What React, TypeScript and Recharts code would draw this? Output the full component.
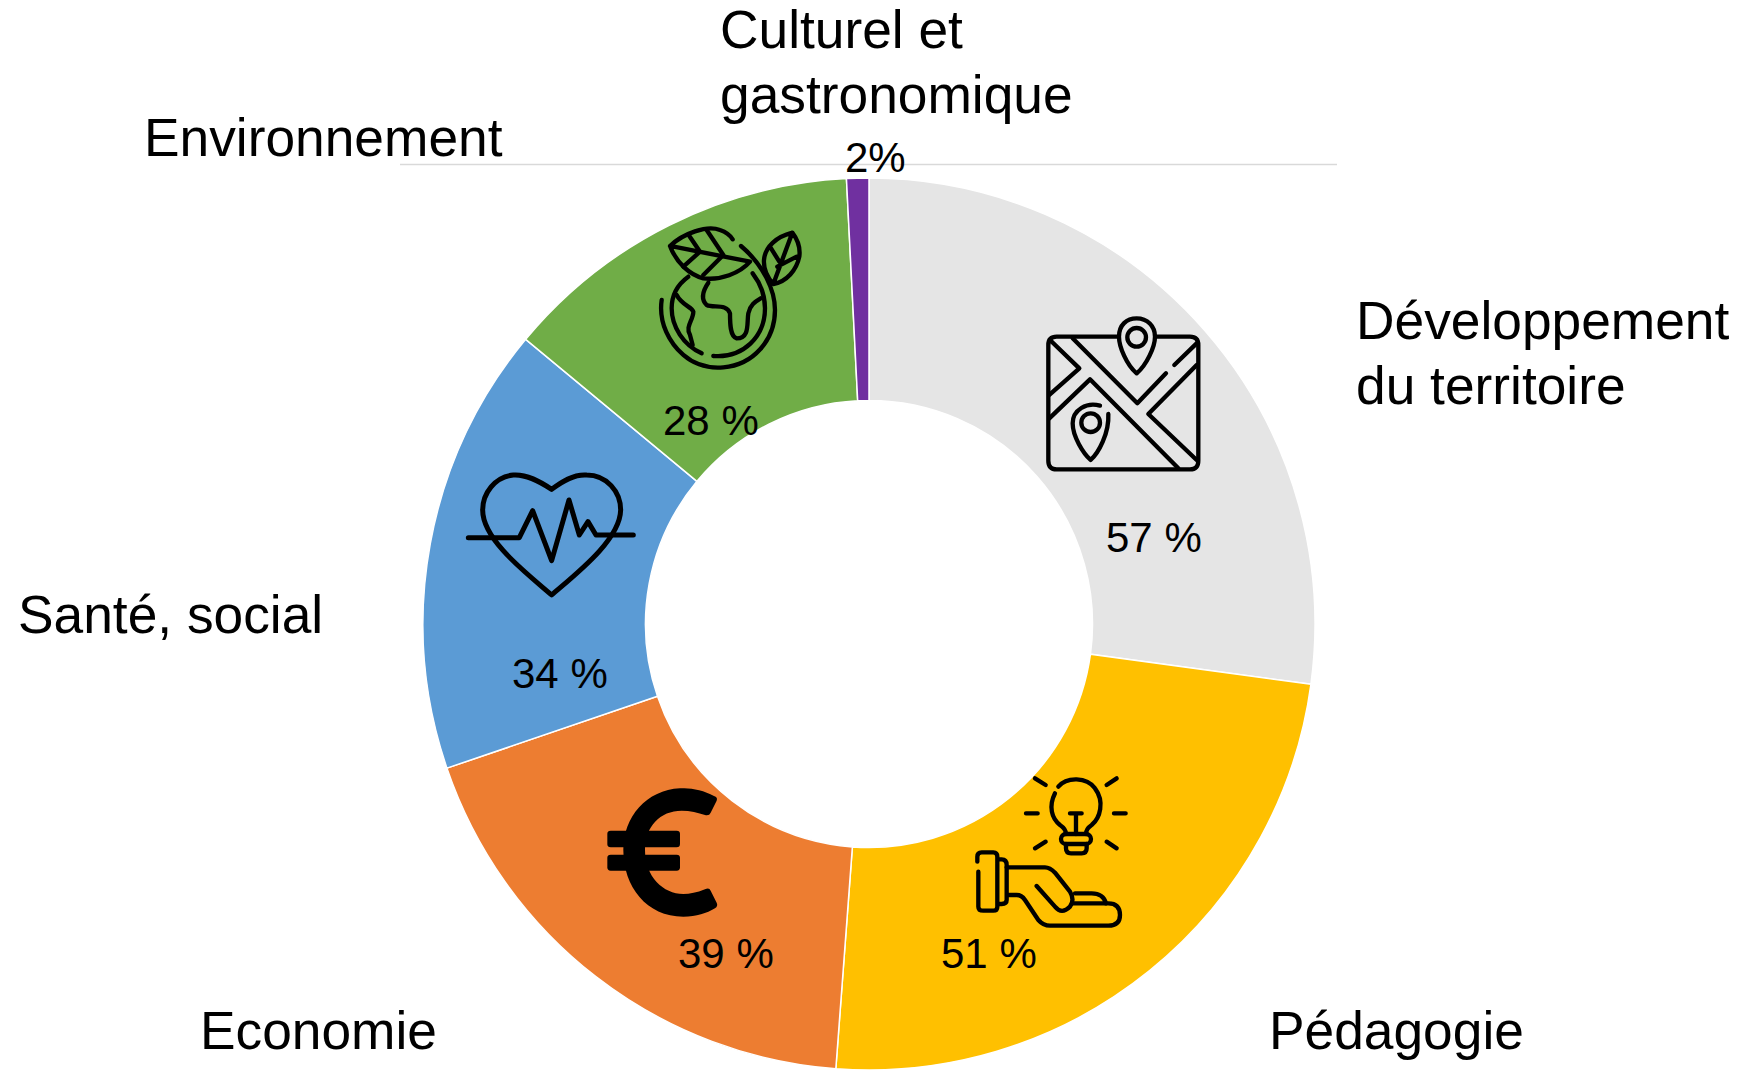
import React from "react";
import { PieChart, Pie, Cell } from "recharts";

const categories = ["Développement|du territoire", "Pédagogie", "Economie", "Santé, social", "Environnement", "Culturel et|gastronomique"];
const values = [57.3, 50.7, 39.2, 34.3, 27.8, 1.7];
const valueLabels = ["57 %", "51 %", "39 %", "34 %", "28 %", "2%"];
const colors = ["#E5E5E5", "#FFC000", "#ED7D31", "#5B9BD5", "#70AD47", "#7030A0"];

const rows = categories.map((name, i) => ({ name, value: values[i] }));

// text anchors (left x, first baseline y)
const catPos = [[1356, 339], [1269, 1049], [200, 1049], [18, 633], [144, 156], [720, 48]];
const valPos = [[1106, 552], [941, 968], [678, 968], [512, 688], [663, 435], [845, 172]];
const FONT = '"Liberation Sans", Arial, sans-serif';

const renderLabel = (p: any) => {
  const i = p.index;
  const [cx, cy] = catPos[i];
  const [vx, vy] = valPos[i];
  return (
    <g key={i}>
      {categories[i].split("|").map((line, k) => (
        <text key={k} x={cx} y={cy + k * 64.5} fontFamily={FONT} fontSize={53.3} fill="#000" textAnchor="start">{line}</text>
      ))}
      <text x={vx} y={vy} fontFamily={FONT} fontSize={42} fill="#000" textAnchor="start">{valueLabels[i]}</text>
    </g>
  );
};

const Ico = ({ x, y, children }: { x: number; y: number; children: React.ReactNode }) => (
  <g transform={`translate(${x} ${y}) scale(0.3333)`} fill="none" stroke="#000" strokeWidth={13} strokeLinecap="round" strokeLinejoin="round">{children}</g>
);

const Rule = () => (
  <svg width={1739} height={1077} style={{ position: "absolute", left: 0, top: 0, pointerEvents: "none" }}>
    <line x1={400} x2={1337} y1={164.5} y2={164.5} stroke="#D9D9D9" strokeWidth={1.5} />
  </svg>
);

const Icons = () => (
  <svg width={1739} height={1077} style={{ position: "absolute", left: 0, top: 0, pointerEvents: "none" }}>
    {/* map */}
    <Ico x={1020} y={290}>
      <path d="M295 140H110Q85 140 85 165V512Q85 538 110 538H510Q535 538 535 512V165Q535 140 510 140H410" />
      <path d="M350 250C320 225 297 170 297 140C297 105 320 85 350 85C382 85 405 108 405 140C405 170 380 225 350 250Z" />
      <circle cx={350} cy={142} r={28} />
      <path d="M90 150L178 235L88 315M158 145L352 340L438 250M463 225L530 160M88 385L210 268L475 535M530 225L385 372L530 510" />
      <circle cx={212} cy={398} r={28} />
      <path d="M240 347C200 335 158 360 158 400C158 440 190 490 212 510C235 490 268 430 265 372" />
    </Ico>
    {/* globe */}
    <Ico x={640} y={210}>
      <path d="M145 200C110 225 95 260 95 295C95 350 130 405 185 430" />
      <path d="M65 270C55 340 90 400 130 435C170 470 215 475 250 472C340 465 405 390 405 300C405 240 370 165 303 108" />
      <path d="M220 438C310 445 375 380 375 295C375 260 365 225 338 190" />
      <path d="M205 218C190 240 180 265 200 285C220 295 260 280 270 310C270 340 270 380 290 385C330 385 320 340 325 310C330 285 345 275 362 265" />
      <path d="M110 255C125 285 155 290 160 305C160 330 135 350 150 375L158 405" />
      <path d="M278 88C270 75 255 65 240 60C200 45 130 70 90 108C110 160 150 195 190 205C240 212 300 190 330 155L90 108" />
      <path d="M148 78L180 125L130 170M200 60L250 135L190 195" />
      <path d="M457 68C410 80 375 110 372 150C370 180 385 205 400 222C440 215 470 180 478 140C482 110 470 85 457 68ZM457 68L400 222M390 110L418 155M470 140L412 170" />
    </Ico>
    {/* heart */}
    <Ico x={450} y={450}>
      <path d="M305 118C270 95 230 72 190 75C135 80 98 130 98 180C98 270 230 370 305 435C380 370 510 270 512 180C512 125 470 75 410 75C370 72 335 95 305 118Z" strokeWidth={15} />
      <path d="M55 263H208L248 182L305 332L357 150L388 255L414 215L438 255H550" strokeWidth={15} />
    </Ico>
    {/* euro */}
    <Ico x={590} y={770}>
      <g fill="#000" stroke="none">
        <rect x={52} y={182} width={218} height={50} rx={10} />
        <rect x={52} y={254} width={218} height={48} rx={10} />
        <path d="M372 78C340 60 300 52 270 55C170 60 100 140 100 240C100 350 170 440 280 440C320 440 350 430 375 415Q385 408 380 398L362 362Q358 352 345 358C320 368 300 372 280 372C220 372 165 320 165 240C165 170 210 122 275 122C300 122 325 128 345 135Q358 138 362 128L380 92Q384 82 372 78Z" />
      </g>
    </Ico>
    {/* bulb and hand */}
    <Ico x={960} y={760}>
      <path d="M285 100C265 140 275 175 300 195C315 205 318 215 318 222M295 80C320 50 380 50 405 85C435 125 420 175 395 195C380 205 378 215 378 222" />
      <rect x={303} y={222} width={90} height={30} rx={15} />
      <path d="M318 252V265Q318 280 333 280H365Q380 280 380 265V252M330 160H365M348 160V222" />
      <path d="M225 55L257 75M198 160H233M225 265L257 245M440 75L470 55M462 160H497M440 245L470 265" />
      <path d="M55 335V440Q55 452 70 452H100Q112 452 112 440V290Q112 277 100 277H65Q52 277 52 290V305" />
      <path d="M115 298H125Q140 298 140 315V420Q140 432 125 432H115" />
      <path d="M140 322H255Q270 322 285 338L330 395Q345 420 330 440Q305 465 285 440L230 378" />
      <path d="M145 405H170Q185 405 195 420L235 480Q250 497 270 497H445Q480 497 480 465Q480 430 445 430H340" />
      <path d="M345 400H395Q430 400 438 430" />
    </Ico>
  </svg>
);

export default function App() {
  return (
    <div style={{ position: "absolute", left: 0, top: 0, width: 1739, height: 1077, background: "#fff", overflow: "hidden" }}>
      <Rule />
      <PieChart width={1739} height={1077} margin={{ top: 0, right: 0, bottom: 0, left: 0 }} style={{ position: "absolute", left: 0, top: 0 }}>
        <Pie
          data={rows}
          dataKey="value"
          nameKey="name"
          cx={869}
          cy={624}
          innerRadius={223.5}
          outerRadius={446}
          startAngle={90}
          endAngle={-270}
          stroke="#fff"
          strokeWidth={1.5}
          label={renderLabel}
          labelLine={false}
          isAnimationActive={false}
        >
          {rows.map((_, i) => (
            <Cell key={i} fill={colors[i]} />
          ))}
        </Pie>
      </PieChart>
      <Icons />
    </div>
  );
}
